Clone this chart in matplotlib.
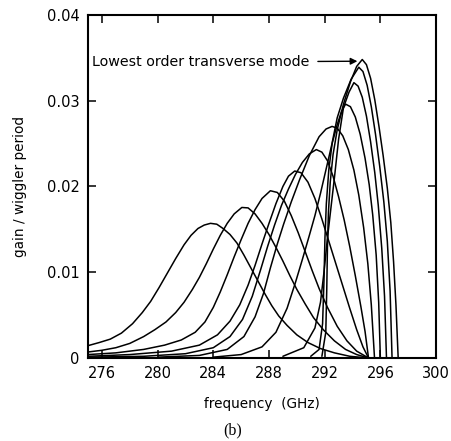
import matplotlib
matplotlib.use("Agg")
import matplotlib.pyplot as plt

# ---- data ----
mode1_f = [275.0, 275.8, 276.6, 277.4, 278.2, 278.9, 279.5, 280.1, 280.7, 281.3, 281.9, 282.4, 282.9, 283.35, 283.8,
           284.25, 284.7, 285.2, 285.7, 286.2, 286.7, 287.2, 287.7, 288.2, 288.7, 289.3, 290.0, 290.8, 291.7, 292.7, 293.8, 295.15]
mode1_g = [.00144, .0018, .0022, .0029, .0040, .0053, .0066, .0082, .0099, .0116, .0132, .0143, .0151, .0155, .0157,
           .0156, .0151, .0144, .0134, .0120, .0105, .0090, .0075, .0061, .0049, .0038, .0027, .0018, .0011, .0006, .0002, 0]

mode2_f = [275.0, 276.0, 277.0, 278.0, 279.0, 279.8, 280.6, 281.3, 281.9, 282.5, 283.0, 283.5, 284.0, 284.5, 285.0, 285.5, 286.05,
           286.5, 287.0, 287.5, 288.0, 288.5, 289.0, 289.5, 290.0, 290.6, 291.2, 291.9, 292.7, 293.5, 294.3, 295.15]
mode2_g = [.0007, .0009, .0012, .0017, .0025, .0033, .0042, .0053, .0065, .0080, .0094, .0110, .0127, .0143, .0157, .0168, .01755,
           .0175, .0168, .0157, .0144, .0129, .0113, .0096, .0080, .0063, .0047, .0033, .0020, .0010, .0004, 0]

mode3_f = [275.0, 277.0, 279.0, 280.5, 281.7, 282.7, 283.4, 284.0, 284.5, 285.0, 285.5, 286.0, 286.5, 287.0, 287.5, 288.1,
           288.6, 289.1, 289.6, 290.1, 290.6, 291.1, 291.6, 292.2, 292.9, 293.6, 294.3, 295.15]
mode3_g = [.0004, .0006, .0010, .0015, .0021, .0030, .0042, .0059, .0077, .0097, .0118, .0138, .0157, .0173, .0186, .0195,
           .0193, .0183, .0166, .0146, .0124, .0102, .0081, .0059, .0037, .0020, .0008, 0]

mode4_f = [275.0, 278.0, 281.0, 283.0, 284.3, 285.2, 285.9, 286.5, 287.0, 287.5, 288.0, 288.5, 289.0, 289.4, 289.85,
           290.3, 290.8, 291.3, 291.8, 292.3, 292.8, 293.3, 293.8, 294.3, 294.75, 295.15]
mode4_g = [.0002, .0004, .0008, .0015, .0027, .0043, .0062, .0085, .0108, .0133, .0157, .0180, .0200, .0212, .0218,
           .0216, .0205, .0186, .0162, .0136, .0110, .0084, .0058, .0033, .0013, 0]

mode5_f = [275.0, 279.0, 282.0, 284.0, 285.2, 286.1, 286.8, 287.4, 287.9, 288.4, 288.9, 289.4, 289.9, 290.4, 290.9, 291.4,
           291.8, 292.2, 292.6, 293.0, 293.4, 293.8, 294.2, 294.6, 294.9, 295.15]
mode5_g = [.0001, .0002, .0005, .0012, .0025, .0045, .0072, .0103, .0130, .0155, .0178, .0197, .0214, .0228, .0238, .0243,
           .0240, .0230, .0212, .0188, .0161, .0130, .0096, .0060, .0031, 0]

mode6_f = [280.0, 283.0, 285.0, 286.2, 287.0, 287.6, 288.1, 288.6, 289.05, 289.6, 290.2, 290.9, 291.6, 292.1, 292.53,
           292.9, 293.3, 293.7, 294.1, 294.45, 294.8, 295.1, 295.35, 295.58]
mode6_g = [.0001, .0003, .0010, .0025, .0048, .0075, .0105, .0133, .0156, .0182, .0208, .0236, .0258, .0267, .0270,
           .0268, .0259, .0243, .0219, .0190, .0152, .0110, .0062, 0]

mode7_f = [284.0, 286.0, 287.5, 288.5, 289.3, 289.9, 290.4, 290.9, 291.3, 291.7, 292.1, 292.5, 292.9, 293.2, 293.5,
           293.85, 294.2, 294.55, 294.9, 295.2, 295.45, 295.7, 295.88, 296.0]
mode7_g = [.0001, .0004, .0013, .0030, .0058, .0088, .0115, .0143, .0166, .0192, .0220, .0248, .0272, .0287, .0296,
           .0293, .0281, .0261, .0233, .0202, .0167, .0120, .0065, 0]

mode8_f = [289.0, 290.5, 291.3, 291.7, 291.95, 292.2, 292.45, 292.7, 293.0, 293.35, 293.75, 294.1,
           294.4, 294.7, 295.0, 295.3, 295.6, 295.85, 296.1, 296.3, 296.44]
mode8_g = [.0002, .0012, .0035, .0065, .0100, .0140, .0175, .0210, .0255, .0292, .0310, .0321,
           .0317, .0304, .0282, .0252, .0216, .0178, .0128, .0072, 0]

mode9_f = [291.0, 291.6, 291.85, 291.95, 292.02, 292.12, 292.3, 292.55, 292.9, 293.35, 293.9, 294.45,
           294.75, 295.05, 295.35, 295.65, 295.95, 296.25, 296.5, 296.7, 296.84]
mode9_g = [.0002, .0010, .0040, .0090, .0140, .0180, .0220, .0252, .0280, .0303, .0325, .0339,
           .0334, .0318, .0293, .0261, .0224, .0182, .0136, .0078, 0]

mode10_f = [291.8, 292.08, 292.15, 292.2, 292.27, 292.4, 292.6, 292.9, 293.35, 293.85, 294.3, 294.7,
            295.0, 295.3, 295.6, 295.9, 296.2, 296.5, 296.75, 296.95, 297.12, 297.28]
mode10_g = [.0002, .0030, .0080, .0130, .0170, .0205, .0237, .0266, .0296, .0322, .0340, .0348,
            .0342, .0326, .0301, .0270, .0236, .0198, .0158, .0112, .0062, 0]

x_ticks = [276, 280, 284, 288, 292, 296, 300]
y_ticks = [0, 0.01, 0.02, 0.03, 0.04]
y_tick_labels = ["0", "0.01", "0.02", "0.03", "0.04"]

# ---- figure ----
plt.rcParams['font.family'] = ['DejaVu Sans']
fig = plt.figure(figsize=(4.52, 4.41), dpi=100)
ax = fig.add_axes([0.1947, 0.1882, 0.770, 0.778])

curves = [(mode1_f, mode1_g), (mode2_f, mode2_g), (mode3_f, mode3_g), (mode4_f, mode4_g),
          (mode5_f, mode5_g), (mode6_f, mode6_g), (mode7_f, mode7_g), (mode8_f, mode8_g),
          (mode9_f, mode9_g), (mode10_f, mode10_g)]
for f, g in curves:
    ax.plot(f, g, color='black', lw=1.1, solid_joinstyle='round', solid_capstyle='round')

ax.set_xlim(275, 300)
ax.set_ylim(0, 0.04)
ax.set_xticks(x_ticks)
ax.set_yticks(y_ticks)
ax.set_yticklabels(y_tick_labels)
ax.tick_params(direction='in', length=6, width=1.1, top=True, right=True,
               labelsize=10.5, pad=6)
for s in ax.spines.values():
    s.set_linewidth(1.5)

ax.set_xlabel("frequency  (GHz)", fontsize=9.8, labelpad=11)
ax.set_ylabel("gain / wiggler period", fontsize=9.8, labelpad=14)

ax.annotate("Lowest order transverse mode", xy=(294.35, 0.0346), xytext=(275.3, 0.0345),
            fontsize=10.3, va='center', ha='left',
            arrowprops=dict(arrowstyle='-|>', color='black', lw=1.0,
                            mutation_scale=10, shrinkA=4, shrinkB=0))

fig.text(0.515, 0.025, "(b)", fontsize=11.5, family='Liberation Serif', ha='center', va='center')

fig.savefig("out.png", dpi=100)
